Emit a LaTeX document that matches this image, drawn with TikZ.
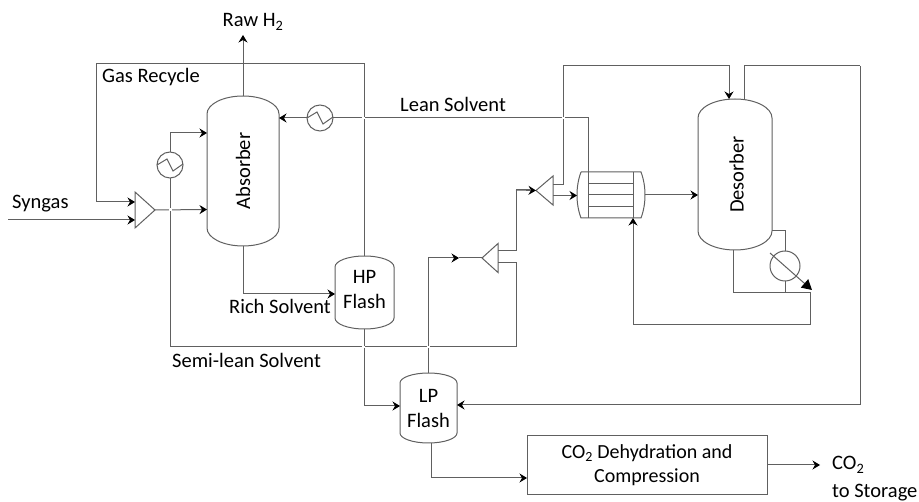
\documentclass[tikz,border=0pt]{standalone}
\usepackage{fontspec}
\setmainfont{Carlito}
\usetikzlibrary{arrows.meta,calc}
\definecolor{ln}{HTML}{606060}
\tikzset{
  x=1pt,y=-1pt,
  pipe/.style={draw=ln,line width=1pt},
  flow/.style={pipe,-{Stealth[length=7.5pt,width=9pt,inset=2.5pt,color=black]}},
  gap/.style={draw=white,line width=2.2pt},
  equip/.style={draw=ln,line width=1pt},
  anchorbox/.style={inner sep=0pt,outer sep=0pt},
  hxc/.style={circle,draw=ln,line width=1pt,minimum size=26pt,inner sep=0pt,outer sep=0pt},
  lbl/.style={inner sep=0pt,font=\fontsize{20.5}{25}\selectfont,text=black},
}
\newcommand{\vessel}[8]{%
  \pgfmathsetmacro{\vw}{#4-#2}\pgfmathsetmacro{\vh}{#5-#3}%
  \node[anchorbox,minimum width=\vw pt,minimum height=\vh pt] (#1) at ({(#2+#4)/2},{(#3+#5)/2}) {};
  \draw[equip] ([yshift=-#6 pt]#1.north west) arc[start angle=180,end angle=0,x radius=\vw/2*1pt,y radius=#6 pt]
     -- ([yshift=#6 pt]#1.south east) arc[start angle=0,end angle=-180,x radius=\vw/2*1pt,y radius=#6 pt] -- cycle;
  \node[lbl,align=center,#7] (#1-label) at (#1.center) {#8};
}
\newcommand{\hxzig}[1]{%
  \draw[equip] ($(#1.center)+(-13pt,0pt)$) -- ($(#1.center)+(-3pt,6pt)$) -- ($(#1.center)+(3pt,-6pt)$) -- ($(#1.center)+(13pt,1pt)$);
}
\begin{document}
\begin{tikzpicture}
\useasboundingbox (0,0) rectangle (919,502);
% vessels
\vessel{abs}{207}{96}{279}{246}{18}{rotate=90}{Absorber}
\vessel{des}{698}{99}{772}{250}{19}{rotate=90,yshift=-1.5pt}{Desorber}
\vessel{hp}{335}{256}{394}{329}{11}{yshift=3pt}{HP\\Flash}
\vessel{lp}{400}{373}{457}{443}{10}{}{LP\\Flash}
% coolers
\node[hxc] (hxa) at (320,118) {}; \hxzig{hxa}
\node[hxc] (hxb) at (170,165) {}; \hxzig{hxb}
\node[circle,draw=ln,line width=1pt,minimum size=30pt,inner sep=0pt,outer sep=0pt] (reb) at (785,266) {};
% mixers / splitters
\node[anchorbox,minimum width=20pt,minimum height=36pt] (mix) at (145,210) {};
\draw[equip] (mix.north west) -- (mix.south west) -- (mix.east) -- cycle;
\node[anchorbox,minimum width=17pt,minimum height=29pt] (spa) at (544.5,190.5) {};
\draw[equip] (spa.north east) -- (spa.south east) -- (spa.west) -- cycle;
\node[anchorbox,minimum width=16pt,minimum height=29pt] (spb) at (490,258) {};
\draw[equip] (spb.north east) -- (spb.south east) -- (spb.west) -- cycle;
% lean/rich exchanger
\node[anchorbox,minimum width=68pt,minimum height=46pt] (hex) at (611,195) {};
\draw[equip] (581,172) -- (641,172) .. controls (644,180) and (645,188) .. (645,195) .. controls (645,202) and (644,210) .. (641,218) -- (581,218) .. controls (578,210) and (577,202) .. (577,195) .. controls (577,188) and (578,180) .. (581,172);
\draw[equip] (588,172) -- (588,218) (633,172) -- (633,218) (588,183.5) -- (633,183.5) (588,195) -- (633,195) (588,207) -- (633,207);
% box
\node[draw=ln,line width=1pt,minimum width=240pt,minimum height=59pt,inner sep=0pt,outer sep=0pt,lbl,font=\fontsize{20}{24}\selectfont,align=center] (box) at (647,465.5) {CO\textsubscript{2} Dehydration and\\Compression};
% free ends
\coordinate (h2out) at (243,35);
\coordinate (synin) at (8,220);
\coordinate (co2out) at (820,465);
% connectors
\draw[flow] (abs.north) -- (h2out);
\draw[flow] (hp.north) |- (96,64) -- (96,202) -- (mix.west |- 0,202);
\draw[flow] (synin) -- (mix.west |- 0,220);
\draw[flow] (mix.east) -- (abs.west |- 0,209.5);
\draw[flow] (hxb.north) |- (abs.west |- 0,133);
\draw[pipe] (spb.east |- 0,263) -| (516,347) -| (hxb.south);
\draw[flow] (hxa.west) -- (abs.east |- hxa.west);
\draw[pipe] (588,172) |- (hxa.east);
\draw[flow] (abs.south) |- (hp.west |- 0,294);
\draw[flow] (hp.south) |- (lp.west |- 0,406);
\coordinate (mida) at (459,258);
\draw[flow] (lp.north) |- (mida);
\draw[pipe] (mida) -- (spb.west);
\draw[pipe] (spb.east |- 0,251) -| (516,190) -- (530,190);
\draw[flow] (516,190) -- (spa.west);
\draw[flow] (spa.east |- 0,185) -| (563,66) -| (des.north west -| 729,0);
\draw[flow] (spa.east |- 0,195.5) -- (hex.west |- 0,195.5);
\draw[flow] (hex.east) -- (des.west |- hex.east);
\draw[pipe] (744,99) |- (860,66);
\draw[flow] (860,66) |- (lp.east |- 0,405);
\draw[pipe] (des.east |- 0,231) -| (reb.north);
\draw[pipe] (reb.south) -- (785,293);
\draw[flow] (733,250) |- (810,293) |- (633,325) -- (633,218);
\draw[flow] (lp.south -| 431,0) |- (box.west |- 0,478);
\draw[flow] (box.east |- co2out) -- (co2out);
\coordinate (dga) at (770,253);
\coordinate (dgb) at (812,290);
\draw[pipe,-{Triangle[length=10pt,width=11pt,color=black]}] (dga) -- (dgb);
% crossings
\draw[gap] (361.5,118) -- (364.5,118);
\draw[gap] (561.5,118) -- (564.5,118);
\draw[gap] (168.5,209.5) -- (171.5,209.5);
\draw[gap] (361.5,347) -- (364.5,347);
\draw[gap] (426.5,347) -- (429.5,347);
% labels
\node[lbl,anchor=base] (lh2) at (253,27) {Raw H\textsubscript{2}};
\node[lbl,anchor=base west] (lgas) at (102,83) {Gas Recycle};
\node[lbl,anchor=base west] (lsyn) at (12,209) {Syngas};
\node[lbl,anchor=base west] (llean) at (400,112) {Lean Solvent};
\node[lbl,anchor=base west] (lrich) at (229,314) {Rich Solvent};
\node[lbl,anchor=base west] (lsemi) at (172,368) {Semi-lean Solvent};
\node[lbl,anchor=base west] (lco2) at (832,470) {CO\textsubscript{2}};
\node[lbl,anchor=base west] (lsto) at (832,498) {to Storage};
\end{tikzpicture}
\end{document}
